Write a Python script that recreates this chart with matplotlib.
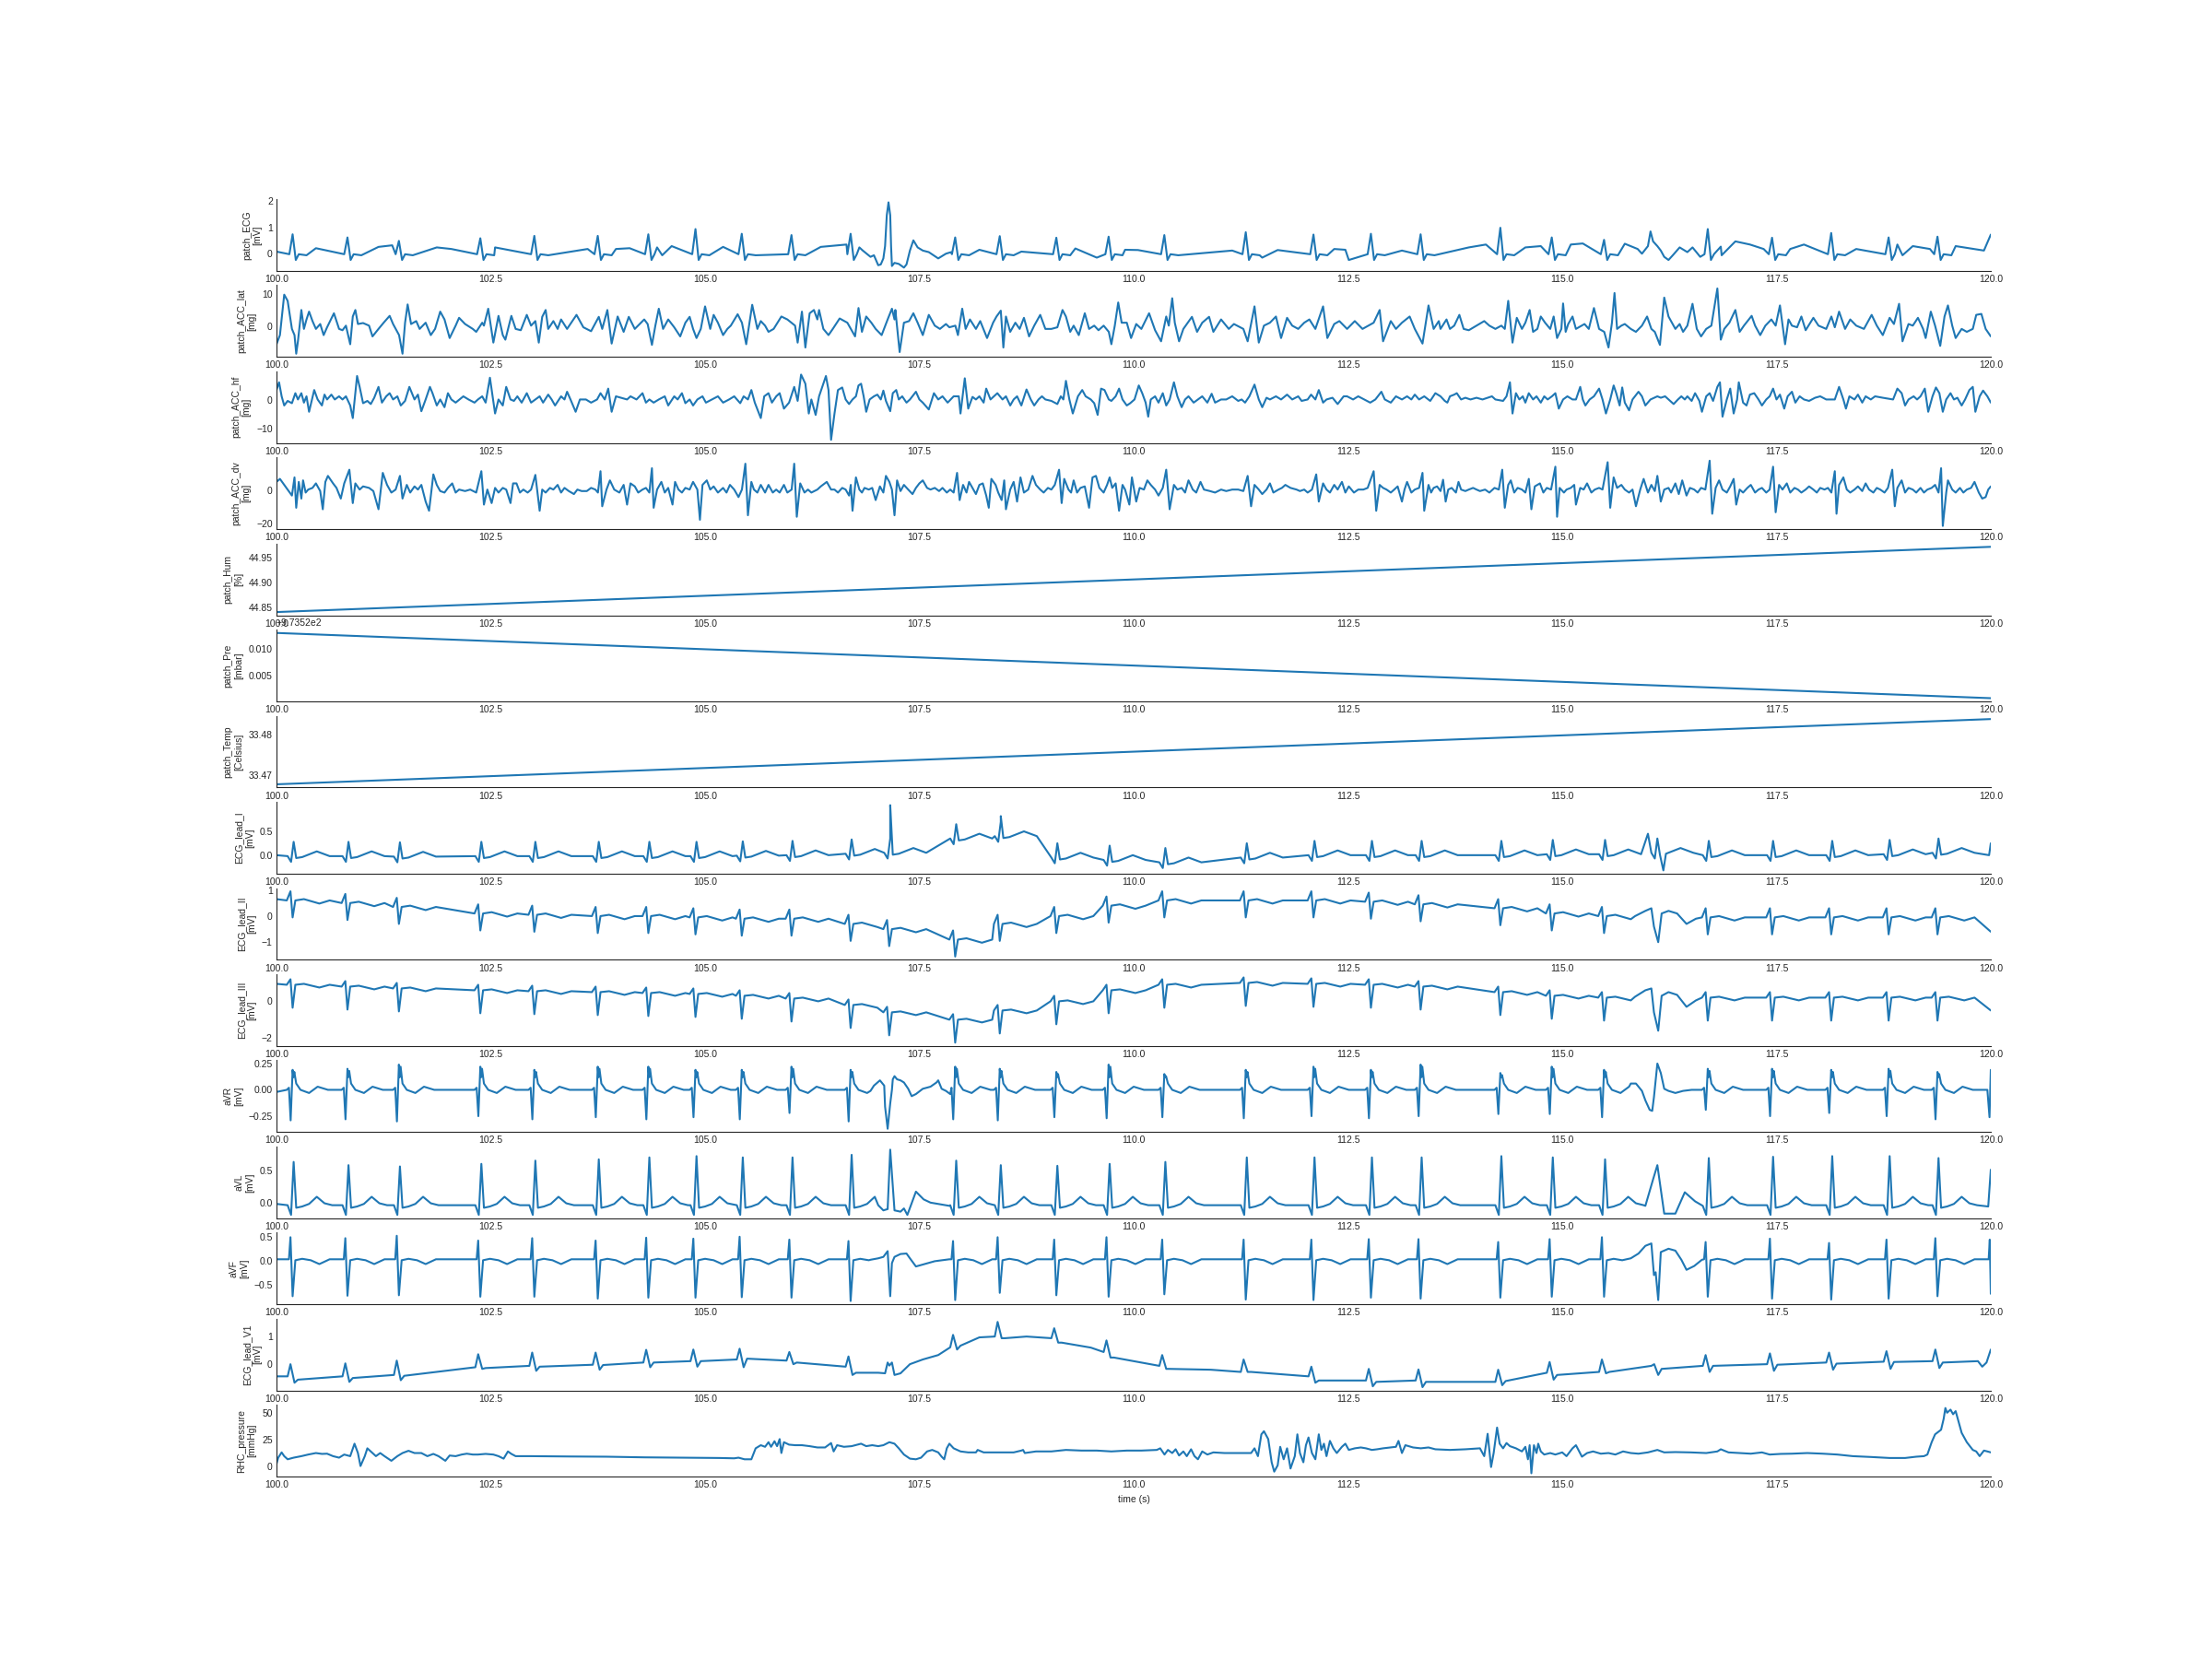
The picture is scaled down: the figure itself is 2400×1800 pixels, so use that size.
import numpy as np
import matplotlib
matplotlib.use("Agg")
import matplotlib.pyplot as plt
import seaborn as sns

sns.set_style("white")
plt.rcParams["font.family"] = ["Liberation Sans", "DejaVu Sans"]
plt.rcParams["font.size"] = 7.5
plt.rcParams["xtick.major.size"] = 0
plt.rcParams["ytick.major.size"] = 0
plt.rcParams["xtick.major.pad"] = 3
plt.rcParams["ytick.major.pad"] = 3

# ---------------- data ----------------
beat_t = [100.20, 100.84, 101.44, 102.39, 103.02, 103.76, 104.35, 104.90, 105.44, 106.02,
          106.71, 107.16, 107.93, 108.45, 109.11, 109.72, 110.37, 111.32, 112.11, 112.78,
          113.36, 114.29, 114.89, 115.50, 116.11, 116.71, 117.46, 118.15, 118.82, 119.39]

# patch ECG
patch_r = [0.74, 0.62, 0.49, 0.59, 0.68, 0.68, 0.74, 0.94, 0.76, 0.71, 0.76, 1.96, 0.62, 0.67, 0.61,
           0.65, 0.71, 0.82, 0.73, 0.76, 0.74, 0.99, 0.62, 0.53, 0.85, 0.94, 0.61, 0.79, 0.62, 0.65]
patch_extra = [(100.0, 0.08), (100.46, 0.21), (101.19, 0.26), (101.35, 0.32), (101.87, 0.24), (102.04, 0.18),
               (102.55, 0.24), (103.63, 0.18), (103.96, 0.18), (104.12, 0.21), (104.44, 0.24), (104.61, 0.29),
               (105.21, 0.26), (106.35, 0.26), (106.65, 0.35), (108.20, 0.15), (108.69, 0.08), (109.32, 0.2),
               (109.57, -0.15), (109.90, 0.15), (110.05, 0.14), (111.15, 0.12), (111.5, -0.15), (111.68, 0.14),
               (112.34, 0.18), (112.47, 0.15), (112.51, -0.24), (113.13, 0.12), (113.91, 0.24), (114.11, 0.35),
               (114.57, 0.24), (114.75, 0.29), (115.10, 0.35), (115.24, 0.39), (115.73, 0.38), (115.88, 0.18),
               (116.85, 0.27), (117.02, 0.47), (117.19, 0.35), (117.35, 0.18), (117.66, 0.18), (117.82, 0.35),
               (118.43, 0.18), (118.91, 0.35), (119.09, 0.29), (119.29, 0.18), (119.59, 0.29), (119.92, 0.12),
               (120.0, 0.73)]
patch_pvc1 = [(106.80, 0.24), (106.84, 0.12), (106.93, -0.12), (106.97, -0.06), (107.02, -0.44),
              (107.05, -0.41), (107.08, -0.18), (107.10, 0.29), (107.12, 1.47), (107.14, 1.96),
              (107.16, 1.47), (107.17, 0.29), (107.18, -0.47), (107.21, -0.35), (107.26, -0.39),
              (107.32, -0.53), (107.35, -0.41), (107.39, 0.12), (107.43, 0.51), (107.48, 0.24),
              (107.54, 0.12), (107.61, 0.06), (107.72, -0.18), (107.81, 0.0), (107.87, 0.06)]
patch_pvc2 = [(115.93, 0.0), (116.00, 0.29), (116.03, 0.85), (116.06, 0.47), (116.11, 0.29), (116.15, 0.12),
              (116.19, -0.12), (116.24, -0.24), (116.29, -0.06), (116.37, 0.24), (116.46, 0.06),
              (116.52, 0.24), (116.61, -0.12)]

acc_lat_pts = [
    (100.00, -5.5), (100.04, -2.7), (100.09, 9.7), (100.13, 7.8), (100.18, -0.8), (100.21, -2.7), (100.23, -8.4),
    (100.25, -4.6), (100.29, 5.0), (100.32, -0.8), (100.35, 2.1), (100.38, 4.5), (100.42, 1.6), (100.46, -0.8),
    (100.51, 0.7), (100.55, -2.7), (100.59, -0.3), (100.67, 4.0), (100.73, -0.8), (100.77, -1.2), (100.81, 0.2),
    (100.86, -5.5), (100.89, 3.0), (100.92, 5.0), (100.95, 0.7), (101.01, 1.0), (101.08, 0.2), (101.12, -3.1),
    (101.19, -0.8), (101.25, 1.1), (101.32, 3.2), (101.36, 0.7), (101.43, -2.7), (101.47, -8.4), (101.50, 1.1),
    (101.53, 6.7), (101.57, 0.7), (101.63, 1.6), (101.67, -0.8), (101.74, 1.1), (101.80, -2.7), (101.85, -0.8),
    (101.91, 4.5), (101.96, 2.1), (102.02, -3.6), (102.09, 0.2), (102.13, 2.6), (102.20, 0.7), (102.29, -0.8),
    (102.33, -1.7), (102.40, 1.1), (102.42, 0.2), (102.47, 5.4), (102.53, -5.0), (102.59, 3.2), (102.64, -2.7),
    (102.67, -4.1), (102.74, 3.2), (102.79, -0.8), (102.85, -1.2), (102.92, 3.5), (102.97, 0.2), (103.02, 1.6),
    (103.06, -5.0), (103.10, 2.9), (103.14, 5.0), (103.17, -0.8), (103.23, 1.6), (103.28, -0.8), (103.32, 2.1),
    (103.39, -0.8), (103.50, 3.5), (103.58, -0.3), (103.67, -1.5), (103.76, 2.9), (103.80, -0.8), (103.86, 5.0),
    (103.91, -5.3), (103.98, 3.0), (104.05, -1.7), (104.11, 2.9), (104.18, -0.8), (104.29, 2.1), (104.33, 0.7),
    (104.38, -5.7), (104.42, 0.2), (104.46, 5.4), (104.51, -0.8), (104.57, 2.1), (104.64, -0.3), (104.71, -3.1),
    (104.77, 1.1), (104.82, 2.9), (104.86, -0.8), (104.90, -3.6), (104.95, -0.8), (105.00, 6.1), (105.06, -0.8),
    (105.10, 3.5), (105.15, 1.1), (105.21, -2.7), (105.26, -0.8), (105.30, 0.2), (105.38, 3.7), (105.43, 1.1),
    (105.48, -5.5), (105.55, 6.6), (105.61, -0.8), (105.65, 1.6), (105.70, 0.2), (105.74, -1.7), (105.80, -0.8),
    (105.89, 3.0), (105.96, 2.1), (106.05, 0.2), (106.08, -5.0), (106.13, 4.5), (106.17, -6.5), (106.22, 4.0),
    (106.27, 5.0), (106.31, 2.1), (106.33, 5.0), (106.38, -0.8), (106.44, -2.7), (106.49, -0.8), (106.57, 2.4),
    (106.66, 1.1), (106.75, -3.1), (106.79, 5.6), (106.83, -1.7), (106.88, 3.0), (106.94, 1.1), (106.99, -0.8),
    (107.06, -2.7), (107.13, 2.1), (107.18, 5.4), (107.21, 2.1), (107.22, 5.0), (107.27, -7.9), (107.32, 1.1),
    (107.38, 1.6), (107.43, 4.0), (107.48, 1.1), (107.54, -2.7), (107.61, 3.5), (107.68, 0.2), (107.74, -0.8),
    (107.81, 0.7), (107.85, -0.3), (107.92, 0.2), (107.95, -2.7), (108.00, 5.4), (108.04, -0.8), (108.09, 2.1),
    (108.16, -0.8), (108.21, 1.6), (108.29, -3.6), (108.36, 1.1), (108.40, 3.0), (108.45, 4.8), (108.48, -6.5),
    (108.51, 3.0), (108.56, -1.7), (108.62, 1.1), (108.67, -0.8), (108.72, 2.6), (108.78, -3.1), (108.84, 0.2),
    (108.91, 3.5), (108.97, -0.8), (109.04, -0.8), (109.11, -0.3), (109.17, 5.0), (109.21, 3.0), (109.26, -1.7),
    (109.30, 0.2), (109.36, -2.7), (109.43, 4.0), (109.48, -0.8), (109.54, 0.2), (109.59, -1.2), (109.65, 0.2),
    (109.71, -1.7), (109.74, -5.5), (109.78, 0.2), (109.82, 7.3), (109.86, 1.1), (109.92, 1.1), (109.97, -3.6),
    (110.03, 0.7), (110.09, -0.8), (110.18, 4.0), (110.25, -1.2), (110.32, -4.6), (110.38, 3.0), (110.41, 0.2),
    (110.45, 8.6), (110.48, 1.1), (110.53, -4.6), (110.58, -0.8), (110.68, 2.9), (110.74, -1.7), (110.80, 1.1),
    (110.88, 2.9), (110.93, -1.7), (111.02, 2.1), (111.11, -0.8), (111.17, 0.7), (111.28, -0.8), (111.33, -4.6),
    (111.41, 6.1), (111.46, -5.0), (111.52, 0.2), (111.59, 1.1), (111.66, 3.0), (111.72, -3.6), (111.79, 2.6),
    (111.85, 0.2), (111.92, -0.8), (111.99, 1.1), (112.05, 2.1), (112.12, -0.8), (112.21, 6.1), (112.26, -3.6),
    (112.34, 0.7), (112.40, 1.6), (112.49, -0.8), (112.58, 1.6), (112.67, -0.8), (112.80, 1.1), (112.87, 5.0),
    (112.91, -4.6), (113.00, 1.6), (113.06, -0.8), (113.13, 1.1), (113.22, 3.0), (113.28, -0.8), (113.37, -5.3),
    (113.44, 6.4), (113.50, -0.8), (113.56, 1.6), (113.58, -0.8), (113.65, 2.1), (113.69, -0.8), (113.74, 0.2),
    (113.80, 3.5), (113.85, -0.8), (113.91, -1.2), (114.00, 0.2), (114.09, 1.6), (114.15, 0.2), (114.22, -0.8),
    (114.29, 0.2), (114.33, -0.8), (114.37, 7.8), (114.42, -5.0), (114.47, 2.6), (114.53, -0.8), (114.57, 1.1),
    (114.62, 5.0), (114.66, -1.7), (114.71, -0.8), (114.75, 3.0), (114.80, 1.1), (114.86, -0.8), (114.90, 3.0),
    (114.94, -3.6), (114.99, -0.8), (115.01, 7.0), (115.04, -1.7), (115.07, 0.7), (115.12, 3.0), (115.16, -0.8),
    (115.26, 0.7), (115.31, -0.8), (115.37, 5.6), (115.43, -0.8), (115.49, -1.7), (115.54, -6.5), (115.58, 1.1),
    (115.61, 10.2), (115.64, -0.8), (115.69, 0.2), (115.73, 0.7), (115.80, -0.8), (115.86, -1.7), (115.93, 0.2),
    (115.99, 3.0), (116.04, -0.8), (116.08, -1.7), (116.14, -5.7), (116.19, 8.8), (116.24, 3.0), (116.28, 1.1),
    (116.32, -0.8), (116.37, 0.7), (116.41, -1.7), (116.46, 0.2), (116.52, 6.9), (116.57, -0.8), (116.62, -3.1),
    (116.68, -0.8), (116.74, 0.2), (116.81, 11.6), (116.85, -4.1), (116.89, -0.8), (116.95, 1.1), (117.02, 5.0),
    (117.07, -1.7), (117.12, 0.2), (117.21, 3.2), (117.25, 0.2), (117.31, -2.7), (117.37, 0.2), (117.44, 2.1),
    (117.49, 0.2), (117.54, 6.4), (117.60, -5.5), (117.64, 2.1), (117.68, 0.2), (117.74, -0.3), (117.79, 3.0),
    (117.84, -1.2), (117.93, 2.6), (117.99, 0.2), (118.08, -0.8), (118.14, 3.0), (118.18, -0.3), (118.23, 4.5),
    (118.30, -0.8), (118.36, 2.1), (118.43, 0.2), (118.52, -0.8), (118.61, 3.5), (118.67, 0.2), (118.74, -2.7),
    (118.82, 2.6), (118.87, 0.7), (118.93, 6.9), (118.97, -4.6), (119.04, 0.7), (119.09, 0.2), (119.15, 2.6),
    (119.21, -0.8), (119.24, -3.6), (119.30, 4.5), (119.35, 0.2), (119.41, -6.0), (119.46, 3.0), (119.50, 6.4),
    (119.55, 0.2), (119.59, -3.6), (119.66, -0.8), (119.72, -1.7), (119.79, -0.8), (119.83, 3.5), (119.89, 3.8),
    (119.94, -0.8), (120.00, -3.1)]

acc_hf_pts = [
    (100.00, 3.6), (100.03, 6.3), (100.06, 1.4), (100.09, -1.8), (100.13, -0.2), (100.18, -1.0), (100.22, 2.5),
    (100.25, 0.3), (100.29, 2.5), (100.32, -0.8), (100.35, 1.4), (100.38, -4.0), (100.44, 3.6), (100.48, 0.3),
    (100.53, -1.8), (100.56, 2.0), (100.59, 0.3), (100.64, 2.0), (100.68, 0.3), (100.73, 1.4), (100.77, 0.3),
    (100.81, 1.4), (100.86, -1.8), (100.89, -6.2), (100.94, 8.5), (100.97, 4.7), (101.01, -1.0), (101.06, -0.2),
    (101.10, -1.3), (101.14, 0.9), (101.19, 4.7), (101.23, -0.8), (101.28, 1.4), (101.32, 2.5), (101.36, 0.3),
    (101.41, 1.4), (101.45, -1.8), (101.50, -0.2), (101.55, 4.7), (101.61, 0.3), (101.65, 2.0), (101.69, -3.8),
    (101.74, 0.3), (101.79, 4.7), (101.82, 2.5), (101.87, -1.8), (101.91, 0.3), (101.96, -2.4), (102.00, 2.5),
    (102.04, 0.3), (102.09, -0.8), (102.18, 1.4), (102.24, 0.3), (102.31, -0.8), (102.35, 0.3), (102.40, 1.4),
    (102.44, -0.8), (102.49, 7.9), (102.55, -4.6), (102.59, 0.3), (102.64, -1.8), (102.68, 4.7), (102.73, 0.3),
    (102.77, -0.2), (102.81, 1.4), (102.86, -0.8), (102.92, 2.5), (102.97, -0.8), (103.02, 0.3), (103.07, 1.4),
    (103.11, -0.8), (103.17, 2.0), (103.21, 0.3), (103.25, -1.8), (103.32, 1.4), (103.36, 0.3), (103.39, 3.0),
    (103.43, 0.3), (103.49, -4.0), (103.54, 0.3), (103.61, 0.3), (103.67, -0.8), (103.74, 0.3), (103.78, 2.5),
    (103.83, 0.3), (103.87, 4.1), (103.91, -4.0), (103.96, 1.4), (104.02, 0.9), (104.09, 0.3), (104.13, 1.4),
    (104.20, 0.3), (104.27, 2.5), (104.31, -0.8), (104.35, 0.3), (104.40, -0.8), (104.46, 0.3), (104.53, 1.4),
    (104.57, -1.8), (104.64, 1.4), (104.68, 0.3), (104.73, 2.5), (104.77, -1.0), (104.82, 0.3), (104.86, -1.8),
    (104.91, 0.3), (104.97, 1.4), (105.01, -0.8), (105.08, 0.3), (105.15, 1.4), (105.21, -0.8), (105.28, 0.3),
    (105.34, 1.4), (105.41, -1.0), (105.45, 1.4), (105.50, 0.3), (105.54, 3.6), (105.58, -0.8), (105.65, -6.2),
    (105.69, 1.4), (105.74, 2.5), (105.78, -0.8), (105.83, 1.4), (105.87, 2.5), (105.92, -2.9), (105.98, -0.8),
    (106.04, 4.7), (106.08, -0.2), (106.12, 9.0), (106.17, 5.8), (106.21, -4.6), (106.24, 0.3), (106.29, -5.1),
    (106.33, 1.4), (106.41, 8.5), (106.44, 3.6), (106.47, -13.8), (106.51, -4.6), (106.55, 3.6), (106.60, 4.5),
    (106.64, 0.3), (106.68, -1.3), (106.72, 0.3), (106.76, 1.4), (106.79, 5.2), (106.82, 5.8), (106.85, 1.4),
    (106.88, -4.0), (106.92, 0.3), (106.97, 1.4), (107.01, 2.0), (107.05, 0.3), (107.08, 3.4), (107.11, -0.2),
    (107.16, -3.8), (107.19, 2.5), (107.23, 3.6), (107.26, 0.3), (107.30, 1.4), (107.35, -0.8), (107.39, 0.3),
    (107.46, 3.0), (107.50, 0.3), (107.54, -0.8), (107.61, -3.2), (107.67, 2.5), (107.72, 0.3), (107.77, 1.4),
    (107.83, -0.8), (107.90, 1.4), (107.96, 1.4), (107.98, -4.6), (108.03, 7.7), (108.07, -2.9), (108.12, 1.2),
    (108.16, 0.3), (108.20, 1.4), (108.25, -0.8), (108.28, 4.1), (108.33, 0.3), (108.37, 1.4), (108.41, 2.5),
    (108.47, 0.3), (108.51, 1.4), (108.56, -1.8), (108.60, 0.3), (108.64, 1.4), (108.69, -1.8), (108.75, 3.8),
    (108.80, 0.3), (108.84, -1.8), (108.89, 0.3), (108.93, 1.4), (108.97, 0.3), (109.04, -0.2), (109.11, -1.3),
    (109.15, 1.4), (109.18, 0.3), (109.21, 6.8), (109.25, 0.3), (109.29, -4.6), (109.35, 1.4), (109.40, 3.6),
    (109.44, 1.4), (109.50, 0.3), (109.54, -1.0), (109.58, -5.1), (109.62, 4.1), (109.66, 3.6), (109.71, 0.3),
    (109.74, -0.2), (109.79, 1.4), (109.83, 4.1), (109.87, 0.3), (109.92, -1.8), (109.96, -1.0), (110.01, 0.3),
    (110.06, 5.2), (110.10, 2.5), (110.14, -0.8), (110.17, -5.7), (110.20, 0.3), (110.25, 1.4), (110.29, -0.8),
    (110.34, 2.5), (110.38, -1.8), (110.42, 0.3), (110.47, 6.3), (110.51, 1.4), (110.56, -2.4), (110.60, 0.3),
    (110.64, 1.4), (110.70, -0.8), (110.75, 0.3), (110.80, 1.4), (110.86, -0.8), (110.91, 2.3), (110.95, -0.8),
    (111.02, 0.3), (111.08, 0.3), (111.15, 1.4), (111.22, -0.2), (111.26, 0.3), (111.30, -0.8), (111.35, 1.4),
    (111.41, 5.5), (111.46, 0.3), (111.50, -2.4), (111.55, 0.9), (111.59, 0.3), (111.66, 1.4), (111.72, 0.3),
    (111.79, 2.0), (111.85, 0.3), (111.92, 1.4), (111.96, -0.2), (112.03, 0.3), (112.07, 2.0), (112.12, 0.3),
    (112.16, 3.6), (112.21, -0.8), (112.25, 0.3), (112.32, 0.9), (112.38, -1.3), (112.45, 1.4), (112.49, 1.4),
    (112.56, 0.3), (112.62, 1.4), (112.69, 0.3), (112.76, -0.8), (112.82, 0.3), (112.89, 3.0), (112.93, 0.3),
    (113.00, -0.8), (113.06, 1.4), (113.13, 0.3), (113.19, 1.4), (113.24, 0.3), (113.28, 2.0), (113.33, 0.3),
    (113.39, 1.4), (113.46, -0.2), (113.52, 2.5), (113.58, 1.4), (113.63, -0.2), (113.66, -0.8), (113.69, 1.4),
    (113.74, 2.0), (113.77, 2.5), (113.82, 0.3), (113.87, 0.9), (113.93, 0.3), (114.00, 0.9), (114.07, 0.3),
    (114.18, 1.4), (114.22, 0.3), (114.31, -0.2), (114.35, 1.4), (114.39, 6.3), (114.42, -4.6), (114.46, 2.5),
    (114.50, 0.3), (114.54, 1.4), (114.57, -0.8), (114.61, 2.5), (114.66, 0.3), (114.70, 1.4), (114.75, -0.8),
    (114.79, 1.4), (114.83, 0.3), (114.88, 1.4), (114.92, 2.5), (114.96, -2.9), (115.01, 0.3), (115.06, 1.4),
    (115.12, 0.3), (115.16, 0.3), (115.21, 4.7), (115.24, 0.3), (115.27, -1.8), (115.32, 0.3), (115.37, 1.4),
    (115.43, 4.1), (115.47, 0.3), (115.51, -4.6), (115.56, 0.3), (115.60, 5.2), (115.63, 2.5), (115.67, -1.8),
    (115.70, 4.5), (115.73, -0.8), (115.78, -3.5), (115.82, 0.3), (115.89, 3.0), (115.93, 1.4), (115.97, -1.8),
    (116.03, 0.3), (116.11, 1.4), (116.15, 0.9), (116.20, 1.4), (116.26, -0.2), (116.30, -1.3), (116.35, 0.3),
    (116.39, 1.4), (116.43, 0.3), (116.46, 1.4), (116.51, -0.2), (116.55, 2.5), (116.60, -0.2), (116.63, -4.0),
    (116.68, 1.4), (116.72, 2.5), (116.76, -0.2), (116.81, 4.7), (116.84, 6.3), (116.87, -5.7), (116.92, 0.3),
    (116.96, 4.1), (117.00, -4.6), (117.04, 0.3), (117.06, 6.3), (117.11, -0.8), (117.15, -1.8), (117.19, 2.0),
    (117.24, 2.5), (117.29, 0.3), (117.33, -1.8), (117.38, 0.3), (117.42, 1.4), (117.46, 4.1), (117.50, 0.3),
    (117.54, 2.0), (117.59, -2.9), (117.63, 1.4), (117.68, 3.0), (117.72, -0.8), (117.77, 1.4), (117.82, 0.3),
    (117.88, -0.2), (117.95, 0.9), (118.01, 1.4), (118.08, 0.3), (118.18, 0.3), (118.23, 4.7), (118.28, 0.3),
    (118.31, -2.9), (118.35, 1.4), (118.41, 0.3), (118.45, 2.0), (118.50, -0.8), (118.54, 1.4), (118.60, 0.3),
    (118.65, 1.4), (118.74, 0.9), (118.86, 0.3), (118.91, 4.1), (118.96, 2.5), (119.00, -1.8), (119.04, 0.3),
    (119.10, 1.4), (119.14, 0.3), (119.18, 1.4), (119.23, 4.1), (119.27, -4.0), (119.32, 1.4), (119.36, 4.5),
    (119.40, 2.5), (119.44, -4.0), (119.48, 0.3), (119.53, 2.5), (119.57, 0.3), (119.61, 0.9), (119.66, -1.8),
    (119.70, 0.3), (119.75, 3.6), (119.79, 4.7), (119.82, -4.0), (119.87, 1.4), (119.91, 3.4), (119.96, 1.4),
    (120.00, -0.8)]

acc_dv_pts = [
    (100.00, 5.1), (100.04, 6.9), (100.09, 3.3), (100.13, 0.5), (100.18, -3.1), (100.21, 7.8), (100.23, -10.4),
    (100.26, 5.1), (100.29, -4.9), (100.31, 6.0), (100.34, -1.3), (100.37, 0.5), (100.42, 1.5), (100.46, 4.2),
    (100.51, -0.4), (100.54, -11.3), (100.57, 5.1), (100.60, 8.7), (100.66, 4.2), (100.70, 1.5), (100.75, -4.9),
    (100.79, 4.2), (100.85, 12.4), (100.89, -7.6), (100.92, 4.2), (100.97, 0.5), (101.01, 2.4), (101.08, 1.5),
    (101.13, -0.4), (101.19, -11.3), (101.24, 10.5), (101.29, 3.3), (101.34, -1.3), (101.39, 0.5), (101.44, 8.7),
    (101.47, -4.9), (101.52, 3.3), (101.56, -1.3), (101.61, 2.4), (101.65, 0.5), (101.69, 3.3), (101.74, -6.7),
    (101.78, -12.2), (101.83, 9.6), (101.87, 3.3), (101.91, -0.4), (101.96, -1.3), (102.00, 1.5), (102.05, 4.2),
    (102.09, -1.3), (102.13, 0.5), (102.20, -0.4), (102.26, 0.5), (102.33, -1.3), (102.39, 11.5), (102.42, -8.5),
    (102.46, 0.5), (102.51, -7.6), (102.55, 1.5), (102.59, -1.3), (102.64, 1.5), (102.68, 0.5), (102.73, -7.6),
    (102.76, 4.2), (102.80, 4.2), (102.84, -1.3), (102.88, 0.5), (102.93, -1.3), (102.97, 0.5), (103.02, 9.3),
    (103.07, -12.2), (103.10, 0.5), (103.14, -1.3), (103.19, 1.5), (103.23, 0.5), (103.28, 3.3), (103.32, -1.3),
    (103.36, 1.5), (103.41, -0.4), (103.47, -2.2), (103.51, 0.5), (103.56, -0.4), (103.62, -0.4), (103.67, 1.5),
    (103.72, 0.5), (103.75, -1.3), (103.78, 11.5), (103.80, -9.5), (103.85, 0.5), (103.89, 6.0), (103.94, 0.5),
    (104.00, -1.3), (104.05, 3.3), (104.09, -8.5), (104.13, 4.2), (104.18, 2.4), (104.22, -1.3), (104.27, 0.5),
    (104.31, 1.5), (104.35, -1.3), (104.38, 13.3), (104.40, -10.4), (104.44, 0.5), (104.49, 5.1), (104.53, -1.3),
    (104.57, 1.5), (104.62, -8.5), (104.65, 5.1), (104.69, 0.5), (104.73, -1.3), (104.77, 1.5), (104.82, 0.5),
    (104.86, 5.1), (104.91, 0.5), (104.94, -17.6), (104.97, 3.3), (105.02, 6.0), (105.06, 0.5), (105.10, 2.4),
    (105.15, -1.3), (105.21, 1.5), (105.25, -1.3), (105.29, 3.3), (105.34, 0.5), (105.39, -4.0), (105.43, 0.5),
    (105.47, 16.0), (105.50, -14.9), (105.54, 5.1), (105.57, 0.5), (105.61, -1.3), (105.65, 3.3), (105.70, -1.3),
    (105.74, 3.3), (105.79, -1.3), (105.83, 0.5), (105.87, -1.3), (105.92, 3.3), (105.96, -1.3), (106.01, 0.5),
    (106.04, 16.0), (106.07, -15.8), (106.11, 4.2), (106.16, -1.3), (106.20, 0.5), (106.24, -1.3), (106.31, 0.5),
    (106.35, 2.4), (106.42, 5.1), (106.47, 0.5), (106.51, 0.5), (106.55, -1.3), (106.60, 1.5), (106.64, 0.5),
    (106.68, -3.1), (106.70, 3.3), (106.72, -12.2), (106.76, 7.8), (106.80, 0.5), (106.83, -1.3), (106.86, 1.5),
    (106.91, 0.5), (106.95, 1.5), (106.99, -5.8), (107.04, 2.4), (107.08, -1.3), (107.11, 8.7), (107.15, 5.1),
    (107.18, 0.5), (107.21, -14.9), (107.24, 6.0), (107.28, -0.4), (107.32, 3.3), (107.37, 0.5), (107.42, -2.2),
    (107.46, 1.5), (107.50, 4.2), (107.54, 6.0), (107.59, 1.5), (107.63, 0.5), (107.68, 1.5), (107.73, -0.4),
    (107.77, 1.5), (107.82, -1.3), (107.86, 0.5), (107.90, -1.3), (107.94, 10.5), (107.97, -5.8), (108.01, 3.3),
    (108.05, -1.3), (108.08, 5.1), (108.12, 1.5), (108.16, -2.2), (108.20, 3.3), (108.24, 4.2), (108.28, -3.1),
    (108.31, -10.4), (108.34, 6.9), (108.39, 3.3), (108.42, -1.3), (108.46, -5.8), (108.49, 6.0), (108.51, -11.3),
    (108.56, 0.5), (108.60, 5.1), (108.64, -6.7), (108.68, 7.8), (108.72, -1.3), (108.77, 0.5), (108.82, 8.7),
    (108.86, 3.3), (108.91, 0.5), (108.95, -1.3), (109.00, 1.5), (109.04, 0.5), (109.08, 3.3), (109.13, 12.4),
    (109.16, -7.6), (109.19, 6.9), (109.24, 0.5), (109.27, -1.3), (109.30, 6.0), (109.34, -1.3), (109.38, 1.5),
    (109.43, 2.4), (109.48, -10.4), (109.52, 7.8), (109.56, 8.7), (109.60, 1.5), (109.65, -1.3), (109.69, 3.3),
    (109.72, 7.8), (109.75, 1.5), (109.79, 4.2), (109.83, -12.2), (109.87, 3.3), (109.90, 0.5), (109.95, -8.5),
    (109.98, 7.8), (110.03, -6.7), (110.07, 1.5), (110.12, 0.5), (110.16, 6.0), (110.20, 3.3), (110.25, 0.5),
    (110.29, -3.1), (110.34, 1.5), (110.38, 12.4), (110.42, -11.3), (110.47, 3.3), (110.51, 0.5), (110.56, 1.5),
    (110.60, -1.3), (110.64, 6.0), (110.69, 0.5), (110.73, -1.3), (110.78, 5.1), (110.82, 0.5), (110.89, -0.4),
    (110.95, -1.3), (111.02, 0.5), (111.08, -0.4), (111.15, 0.5), (111.22, 0.5), (111.28, -0.4), (111.33, 8.7),
    (111.37, -9.5), (111.41, 3.3), (111.46, 0.5), (111.50, -2.2), (111.55, 0.5), (111.59, 4.2), (111.63, -1.3),
    (111.69, 0.5), (111.73, 1.5), (111.77, 3.3), (111.83, 1.5), (111.90, 0.5), (111.94, -0.4), (111.99, 0.5),
    (112.03, -1.3), (112.08, 0.5), (112.13, 9.6), (112.16, -6.7), (112.21, 4.2), (112.25, 0.5), (112.29, -1.3),
    (112.34, 3.3), (112.38, 0.5), (112.43, 5.1), (112.47, -1.3), (112.51, 2.4), (112.57, -1.3), (112.62, 0.5),
    (112.68, 0.5), (112.73, 1.5), (112.80, 11.5), (112.83, -12.2), (112.87, 3.3), (112.91, 1.5), (112.95, 0.5),
    (113.00, -1.3), (113.04, 0.5), (113.08, 2.4), (113.13, -6.7), (113.16, 0.5), (113.19, 5.1), (113.24, -1.3),
    (113.28, 0.5), (113.33, 1.5), (113.37, 10.5), (113.39, -12.2), (113.44, 3.3), (113.47, -1.3), (113.50, 1.5),
    (113.54, 2.4), (113.58, -0.4), (113.61, 6.4), (113.64, -6.7), (113.67, 0.5), (113.71, 1.5), (113.76, -1.3),
    (113.79, 5.1), (113.82, 0.5), (113.87, -0.4), (113.91, 0.5), (113.96, 1.5), (114.00, 0.5), (114.04, -0.4),
    (114.10, 0.5), (114.15, -1.3), (114.21, 1.5), (114.26, 0.5), (114.30, 12.4), (114.33, -10.4), (114.37, 3.3),
    (114.40, 6.0), (114.44, -1.3), (114.48, 1.5), (114.53, 0.5), (114.57, -1.3), (114.61, 6.9), (114.64, -11.3),
    (114.68, 2.4), (114.74, 4.2), (114.78, -1.3), (114.82, 1.5), (114.87, 0.5), (114.92, 14.2), (114.94, -15.8),
    (114.97, 1.5), (115.02, -1.3), (115.05, 0.5), (115.10, 1.5), (115.14, 3.3), (115.16, -8.5), (115.21, 1.5),
    (115.25, 0.5), (115.29, 4.2), (115.34, -1.3), (115.38, 0.5), (115.43, 1.5), (115.47, 0.5), (115.53, 16.9),
    (115.56, -10.4), (115.60, 7.8), (115.64, 1.5), (115.69, 3.3), (115.73, 0.5), (115.78, -1.3), (115.82, 0.5),
    (115.86, -9.5), (115.91, 0.5), (115.95, 6.9), (116.00, -1.3), (116.04, 3.3), (116.08, -0.4), (116.11, 8.7),
    (116.15, -6.7), (116.19, 0.5), (116.24, 1.5), (116.27, -1.3), (116.32, 4.2), (116.36, -2.2), (116.40, 6.0),
    (116.45, -3.1), (116.49, 1.5), (116.54, 0.5), (116.58, -1.3), (116.62, 1.5), (116.67, 0.5), (116.72, 17.8),
    (116.75, -14.0), (116.79, 1.5), (116.83, 6.0), (116.87, 0.5), (116.92, -1.3), (116.96, 2.4), (117.00, 6.9),
    (117.03, -8.5), (117.07, 0.5), (117.11, -1.3), (117.16, 1.5), (117.20, 3.3), (117.25, -1.3), (117.29, 0.5),
    (117.33, 1.5), (117.38, -1.3), (117.42, 0.5), (117.46, 14.2), (117.49, -13.1), (117.53, 3.3), (117.57, 0.5),
    (117.62, 4.2), (117.66, -1.3), (117.71, 1.5), (117.75, 0.5), (117.79, -1.3), (117.84, 0.5), (117.88, 2.4),
    (117.93, 0.5), (117.97, -1.3), (118.01, 1.5), (118.06, 0.5), (118.10, 1.5), (118.14, -1.3), (118.18, 11.5),
    (118.20, -14.0), (118.23, 3.3), (118.28, 7.8), (118.32, 0.5), (118.36, -1.3), (118.41, 0.5), (118.45, 2.4),
    (118.50, -0.4), (118.54, 4.2), (118.58, 0.5), (118.63, -1.3), (118.67, 1.5), (118.71, 0.5), (118.76, -1.3),
    (118.80, 1.5), (118.85, 12.4), (118.88, -9.5), (118.91, 1.5), (118.96, 6.0), (119.00, -1.3), (119.04, 1.5),
    (119.09, 0.5), (119.13, -1.3), (119.18, 1.5), (119.22, -1.3), (119.26, 0.5), (119.31, 1.5), (119.35, 3.3),
    (119.39, -1.3), (119.42, 13.3), (119.44, -21.3), (119.48, -1.3), (119.50, 6.0), (119.55, 0.5), (119.59, -1.3),
    (119.64, 1.5), (119.68, -1.3), (119.72, 0.5), (119.77, 1.5), (119.81, 5.1), (119.86, -1.3), (119.90, -4.9),
    (119.94, -4.0), (119.97, 0.5), (120.00, 2.4)]

hum_t = [100.0, 120.0]
hum_v = [44.8406, 44.9725]
pre_t = [100.0, 120.0]
pre_v = [973.5329, 973.5209]
temp_t = [100.0, 120.0]
temp_v = [33.4677, 33.4839]

# limb leads (baseline per beat)
lead1_base = [-0.02, -0.02, -0.03, -0.02, -0.02, -0.02, -0.02, -0.02, -0.01, 0.0, 0.03, 0.05, 0.35, 0.4,
              -0.05, -0.1, -0.15, -0.05, 0.0, 0.0, 0.0, 0.0, 0.02, 0.02, 0.05, 0.0, 0.0, 0.0, 0.02, 0.05]
lead2_base = [0.6, 0.5, 0.35, 0.1, 0.05, 0.0, 0.0, -0.05, -0.1, -0.1, -0.3, -0.5, -0.9, -0.3, 0.0,
              0.4, 0.6, 0.6, 0.6, 0.55, 0.45, 0.3, 0.1, 0.0, -0.05, -0.05, -0.05, -0.05, -0.05, -0.05]
lead3_base = [0.9, 0.8, 0.7, 0.6, 0.55, 0.5, 0.45, 0.4, 0.3, 0.15, -0.2, -0.6, -1.0, -0.5, 0.0, 0.6, 0.9,
              1.0, 0.95, 0.9, 0.8, 0.5, 0.3, 0.2, 0.2, 0.2, 0.2, 0.2, 0.2, 0.2]
lead2_pvc2 = [(115.85, 0.0), (115.97, 0.2), (116.04, 0.3), (116.07, -0.4), (116.12, -1.0), (116.16, 0.1),
              (116.24, 0.2), (116.34, 0.1), (116.45, -0.3), (116.56, -0.1), (116.63, -0.05)]
lead3_pvc2 = [(115.85, 0.25), (115.97, 0.6), (116.04, 0.7), (116.07, -0.6), (116.12, -1.6), (116.16, 0.3),
              (116.24, 0.5), (116.34, 0.35), (116.45, -0.3), (116.56, 0.05), (116.63, 0.2)]

# augmented leads
avr_trough = [-0.29, -0.28, -0.30, -0.25, -0.28, -0.26, -0.28, -0.26, -0.28, -0.22, -0.30, -0.37, -0.28, -0.29,
              -0.26, -0.27, -0.26, -0.27, -0.25, -0.27, -0.25, -0.23, -0.23, -0.26, -0.20, -0.19, -0.25, -0.22,
              -0.25, -0.28]
avr_peak = [0.19, 0.20, 0.24, 0.22, 0.19, 0.22, 0.22, 0.19, 0.19, 0.22, 0.19, 0.10, 0.22, 0.20, 0.17, 0.24,
            0.15, 0.19, 0.22, 0.19, 0.24, 0.16, 0.22, 0.19, 0.25, 0.20, 0.20, 0.19, 0.20, 0.17]
avr_pvc1 = [(106.93, -0.01), (106.97, 0.04), (107.04, 0.09), (107.09, 0.04), (107.10, -0.16), (107.13, -0.37),
            (107.16, -0.13), (107.18, 0.0), (107.19, 0.1), (107.21, 0.13), (107.24, 0.1), (107.28, 0.09),
            (107.32, 0.07), (107.37, 0.01), (107.41, -0.06), (107.46, -0.04), (107.54, 0.01), (107.63, 0.03),
            (107.70, 0.07), (107.72, 0.09), (107.76, 0.01), (107.81, -0.01), (107.86, -0.04)]
avr_pvc2 = [(115.80, 0.06), (115.86, 0.06), (115.93, -0.01), (115.97, -0.1), (116.02, -0.19), (116.05, -0.2),
            (116.07, -0.07), (116.11, 0.25), (116.15, 0.16), (116.19, 0.01), (116.24, -0.01), (116.32, -0.03),
            (116.41, -0.01)]

avl_peak = [0.63, 0.58, 0.56, 0.60, 0.65, 0.67, 0.70, 0.72, 0.70, 0.70, 0.74, 0.82, 0.65, 0.58, 0.57, 0.60,
            0.63, 0.70, 0.70, 0.70, 0.70, 0.72, 0.70, 0.67, 0.59, 0.69, 0.71, 0.72, 0.72, 0.69]
avl_pvc1 = [(107.02, -0.04), (107.08, -0.12), (107.13, -0.1), (107.16, 0.82), (107.21, -0.12), (107.28, -0.14),
            (107.32, -0.09), (107.36, -0.19), (107.46, 0.17), (107.55, 0.05), (107.63, 0.0), (107.85, -0.05)]
avl_pvc2 = [(115.97, -0.05), (116.06, 0.36), (116.11, 0.58), (116.19, -0.17), (116.32, -0.17), (116.43, 0.16),
            (116.55, 0.02), (116.64, -0.05)]

avf_peak = [0.49, 0.47, 0.52, 0.42, 0.47, 0.42, 0.48, 0.46, 0.50, 0.44, 0.41, 0.20, 0.41, 0.49, 0.44, 0.49,
            0.44, 0.44, 0.44, 0.45, 0.45, 0.39, 0.45, 0.49, 0.36, 0.39, 0.46, 0.37, 0.44, 0.47]
avf_trough = [-0.74, -0.73, -0.72, -0.75, -0.75, -0.79, -0.77, -0.77, -0.76, -0.77, -0.84, -0.74, -0.82, -0.67,
              -0.72, -0.75, -0.70, -0.81, -0.82, -0.77, -0.79, -0.77, -0.75, -0.75, -0.82, -0.75, -0.79, -0.81,
              -0.79, -0.74]
avf_pvc1 = [(106.93, 0.02), (107.02, 0.05), (107.08, 0.08), (107.13, 0.2), (107.16, -0.74), (107.18, -0.05),
            (107.21, 0.08), (107.28, 0.14), (107.35, 0.15), (107.39, 0.05), (107.46, -0.12), (107.54, -0.08),
            (107.68, -0.01), (107.81, 0.02)]
avf_pvc2 = [(115.80, 0.05), (115.89, 0.15), (115.97, 0.31), (116.04, 0.36), (116.07, -0.3), (116.09, -0.24),
            (116.12, -0.82), (116.15, 0.18), (116.24, 0.25), (116.32, 0.21), (116.39, 0.02), (116.45, -0.19),
            (116.54, -0.11), (116.63, 0.02)]

v1_pre = [-0.44, -0.44, -0.39, -0.11, -0.06, -0.02, 0.06, 0.11, 0.17, 0.13, -0.09, -0.33, 0.61, 1.0, 0.94,
          0.44, -0.06, -0.28, -0.44, -0.59, -0.59, -0.64, -0.31, -0.28, -0.06, -0.06, 0.0, 0.06, 0.09, 0.11]
v1_peak = [0.0, 0.03, 0.13, 0.36, 0.42, 0.42, 0.52, 0.53, 0.56, 0.44, 0.28, 0.06, 1.06, 1.53, 1.3, 0.86, 0.33,
           0.17, -0.09, -0.17, -0.19, -0.2, 0.08, 0.17, 0.0, 0.33, 0.39, 0.42, 0.47, 0.53]
v1_trough = [-0.67, -0.64, -0.58, -0.17, -0.24, -0.2, -0.11, -0.09, -0.11, 0.0, -0.39, -0.39, 0.53, 0.94, 0.78,
             0.24, -0.17, -0.28, -0.67, -0.8, -0.83, -0.76, -0.56, -0.33, -0.39, -0.28, -0.24, -0.2, -0.17, -0.14]
v1_post = [-0.56, -0.5, -0.42, -0.14, -0.09, -0.03, 0.06, 0.11, 0.2, 0.06, -0.31, -0.33, 0.67, 0.94, 0.78,
           0.24, -0.17, -0.28, -0.59, -0.64, -0.64, -0.61, -0.39, -0.28, -0.17, -0.06, -0.02, 0.02, 0.08, 0.06]
v1_extra = [(100.0, -0.44), (108.2, 0.97), (108.75, 1.0), (109.5, 0.6), (110.9, -0.2), (119.85, 0.11),
            (119.90, -0.09), (119.95, 0.06), (120.0, 0.53)]
v1_pvc1 = [(107.02, -0.31), (107.10, -0.33), (107.13, 0.06), (107.15, -0.05), (107.18, 0.06), (107.21, -0.39),
           (107.28, -0.33), (107.39, 0.0), (107.54, 0.17), (107.72, 0.33)]

rhc_pts = [
    (100.00, 2.3), (100.02, 8.1), (100.06, 13.0), (100.09, 9.5), (100.13, 6.6), (100.20, 8.1), (100.29, 9.5),
    (100.37, 11.0), (100.46, 12.4), (100.53, 11.6), (100.59, 11.8), (100.66, 9.5), (100.73, 8.1), (100.79, 11.0),
    (100.86, 9.5), (100.91, 21.1), (100.95, 12.4), (100.98, 0.3), (101.03, 9.5), (101.06, 16.8), (101.10, 13.9),
    (101.16, 9.5), (101.21, 12.4), (101.26, 9.5), (101.34, 5.2), (101.41, 9.5), (101.47, 12.4), (101.54, 14.5),
    (101.61, 12.4), (101.69, 12.4), (101.76, 9.5), (101.83, 11.6), (101.89, 9.5), (101.97, 5.2), (102.02, 10.1),
    (102.09, 9.5), (102.16, 11.0), (102.22, 11.8), (102.29, 11.0), (102.35, 11.0), (102.44, 11.6), (102.53, 11.0),
    (102.59, 9.5), (102.65, 7.2), (102.70, 13.9), (102.74, 11.6), (102.79, 9.5), (102.97, 9.5), (103.41, 9.2),
    (103.85, 9.0), (104.29, 8.4), (104.73, 8.1), (105.17, 7.8), (105.34, 7.5), (105.39, 8.1), (105.46, 6.6),
    (105.54, 6.6), (105.59, 16.8), (105.65, 19.7), (105.70, 18.2), (105.74, 22.5), (105.77, 18.2), (105.81, 23.4),
    (105.84, 18.8), (105.87, 25.4), (105.89, 12.4), (105.92, 22.5), (105.98, 20.2), (106.05, 19.7), (106.13, 19.7),
    (106.22, 18.8), (106.31, 17.6), (106.40, 17.6), (106.47, 21.7), (106.50, 13.9), (106.54, 19.7), (106.62, 18.2),
    (106.71, 18.8), (106.82, 21.1), (106.88, 18.8), (106.95, 19.7), (107.02, 18.8), (107.08, 19.7), (107.15, 22.5),
    (107.21, 21.1), (107.26, 16.8), (107.32, 11.0), (107.39, 7.2), (107.46, 6.6), (107.52, 8.1), (107.59, 13.9),
    (107.65, 15.3), (107.72, 13.0), (107.76, 9.0), (107.79, 6.6), (107.82, 16.8), (107.85, 21.1), (107.90, 16.8),
    (107.98, 13.9), (108.07, 13.0), (108.16, 13.0), (108.18, 15.3), (108.25, 13.0), (108.42, 13.0), (108.60, 13.0),
    (108.69, 14.7), (108.71, 15.3), (108.73, 12.4), (108.86, 13.9), (109.04, 13.9), (109.21, 15.3), (109.39, 14.7),
    (109.57, 14.7), (109.74, 13.9), (109.92, 14.7), (110.09, 14.7), (110.27, 15.3), (110.31, 16.8), (110.36, 11.0),
    (110.40, 15.3), (110.45, 12.4), (110.49, 15.9), (110.53, 10.1), (110.58, 13.9), (110.62, 9.5), (110.67, 15.9),
    (110.71, 9.5), (110.75, 6.6), (110.80, 13.9), (110.86, 11.0), (110.93, 13.0), (111.06, 12.4), (111.24, 12.4),
    (111.37, 12.4), (111.41, 16.8), (111.45, 9.5), (111.49, 29.8), (111.52, 32.7), (111.57, 25.4), (111.61, 3.8),
    (111.64, -4.9), (111.68, 0.9), (111.71, 18.2), (111.75, 6.6), (111.79, 16.8), (111.83, -2.0), (111.88, 9.5),
    (111.91, 29.8), (111.94, 12.4), (111.98, 3.8), (112.01, 19.7), (112.04, 26.9), (112.08, 12.4), (112.12, 6.6),
    (112.16, 29.8), (112.19, 15.3), (112.22, 21.1), (112.25, 9.5), (112.29, 23.7), (112.33, 16.8), (112.37, 12.4),
    (112.43, 18.2), (112.47, 21.1), (112.51, 15.3), (112.58, 16.8), (112.65, 17.6), (112.71, 16.8), (112.78, 15.3),
    (112.84, 15.9), (112.91, 16.8), (113.00, 17.6), (113.06, 18.2), (113.09, 23.7), (113.13, 12.4), (113.17, 19.7),
    (113.26, 17.6), (113.35, 16.8), (113.44, 17.6), (113.52, 15.9), (113.69, 15.3), (113.87, 15.9), (114.04, 16.8),
    (114.09, 9.5), (114.13, 30.3), (114.17, -0.6), (114.20, 12.4), (114.24, 36.1), (114.27, 21.1), (114.31, 16.8),
    (114.35, 21.7), (114.39, 18.8), (114.46, 16.8), (114.53, 13.9), (114.57, 18.2), (114.60, 6.6), (114.62, 19.7),
    (114.64, -6.4), (114.67, 19.7), (114.70, 12.4), (114.72, 21.1), (114.75, 13.9), (114.79, 11.0), (114.86, 12.4),
    (114.92, 11.0), (115.00, 13.0), (115.05, 9.5), (115.12, 16.8), (115.16, 19.7), (115.23, 9.0), (115.29, 12.4),
    (115.36, 13.9), (115.45, 11.8), (115.54, 12.4), (115.62, 11.0), (115.71, 13.9), (115.80, 12.4), (115.89, 11.8),
    (116.00, 13.0), (116.11, 15.3), (116.19, 13.0), (116.32, 13.3), (116.50, 13.0), (116.68, 12.4), (116.81, 13.9),
    (116.85, 15.9), (116.94, 13.0), (117.07, 12.4), (117.20, 11.8), (117.33, 13.0), (117.42, 11.0), (117.55, 11.6),
    (117.68, 11.8), (117.86, 12.4), (118.04, 11.8), (118.21, 11.0), (118.39, 9.5), (118.61, 8.7), (118.82, 7.8),
    (119.00, 7.8), (119.13, 9.0), (119.22, 9.5), (119.26, 11.0), (119.31, 22.5), (119.35, 29.8), (119.42, 34.1),
    (119.45, 44.2), (119.47, 54.3), (119.49, 49.9), (119.53, 52.8), (119.56, 48.5), (119.59, 51.4), (119.66, 31.2),
    (119.72, 22.5), (119.79, 15.3), (119.83, 13.9), (119.87, 9.5), (119.92, 14.7), (119.96, 13.9), (120.00, 13.0)]

labels = ["patch_ECG\n[mV]", "patch_ACC_lat\n[mg]", "patch_ACC_hf\n[mg]", "patch_ACC_dv\n[mg]",
          "patch_Hum\n[%]", "patch_Pre\n[mbar]", "patch_Temp\n[Celsius]", "ECG_lead_I\n[mV]",
          "ECG_lead_II\n[mV]", "ECG_lead_III\n[mV]", "aVR\n[mV]", "aVL\n[mV]", "aVF\n[mV]",
          "ECG_lead_V1\n[mV]", "RHC_pressure\n[mmHg]"]
yticks = [[0, 1, 2], [0, 10], [-10, 0], [-20, 0], [44.85, 44.90, 44.95], [973.525, 973.530],
          [33.47, 33.48], [0.0, 0.5], [-1, 0, 1], [-2, 0], [-0.25, 0.0, 0.25], [0.0, 0.5],
          [-0.5, 0.0, 0.5], [0, 1], [0, 25, 50]]
xticks = [100.0, 102.5, 105.0, 107.5, 110.0, 112.5, 115.0, 117.5, 120.0]


# ---------------- helpers ----------------
def pts(p):
    p = sorted(p)
    return np.array([a for a, b in p]), np.array([b for a, b in p])


def beats_line(shape, base=0.0, peak=0.0, trough=0.0, post=None, extra=(), override=()):
    n = len(beat_t)
    base = np.broadcast_to(np.asarray(base, float), (n,))
    peak = np.broadcast_to(np.asarray(peak, float), (n,))
    trough = np.broadcast_to(np.asarray(trough, float), (n,))
    post = base if post is None else np.asarray(post, float)
    out = []
    for i, t0 in enumerate(beat_t):
        t_prev = beat_t[i - 1] if i > 0 else -1e9
        t_next = beat_t[i + 1] if i < n - 1 else 1e9
        for off, kind, val in shape:
            t = t0 + off
            if off > 0 and t > t_next - 0.09:
                continue
            if off < 0 and t < t_prev + 0.06:
                continue
            lvl = {"b": base[i], "p": post[i], "r": peak[i], "s": trough[i]}[kind]
            out.append((t, lvl + val))
    for seg in override:
        lo, hi = min(s[0] for s in seg), max(s[0] for s in seg)
        out = [q for q in out if not (lo - 0.005 <= q[0] <= hi + 0.005)]
        out.extend(seg)
    out.extend(extra)
    return pts(out)


patch_shape = [(-0.05, "b", 0.0), (-0.012, "r", 0.0), (0.025, "s", 0.0), (0.06, "b", 0.0), (0.15, "b", -0.04)]
lead1_shape = [(-0.07, "b", 0.0), (-0.03, "b", -0.12), (0.0, "b", 0.3), (0.03, "b", -0.04), (0.1, "b", -0.02),
               (0.27, "b", 0.1), (0.42, "b", 0.0)]
lead2_shape = [(-0.08, "b", 0.0), (-0.037, "b", 0.35), (-0.012, "b", -0.65), (0.02, "b", 0.0), (0.12, "b", 0.05),
               (0.3, "b", -0.12), (0.42, "b", 0.0)]
lead3_shape = [(-0.08, "b", 0.0), (-0.037, "b", 0.3), (-0.012, "b", -1.25), (0.02, "b", 0.0), (0.12, "b", 0.05),
               (0.3, "b", -0.15), (0.42, "b", 0.0)]
avr_shape = [(-0.08, "b", 0.0), (-0.055, "b", 0.02), (-0.035, "s", 0.0), (-0.012, "r", 0.0), (-0.002, "b", 0.12),
             (0.008, "r", -0.02), (0.03, "b", 0.06), (0.08, "b", 0.0), (0.18, "b", -0.03), (0.28, "b", 0.03),
             (0.4, "b", 0.0)]
avl_shape = [(-0.07, "b", 0.0), (-0.03, "b", -0.15), (0.0, "r", 0.0), (0.03, "b", -0.04), (0.1, "b", -0.02),
             (0.18, "b", 0.02), (0.27, "b", 0.13), (0.36, "b", 0.03), (0.45, "b", 0.0)]
avf_shape = [(-0.08, "b", 0.0), (-0.055, "b", 0.0), (-0.037, "r", 0.0), (-0.012, "s", 0.0), (0.02, "b", -0.02),
             (0.1, "b", 0.01), (0.2, "b", -0.02), (0.3, "b", -0.1), (0.42, "b", 0.0)]
v1_shape = [(-0.07, "b", 0.0), (-0.037, "r", 0.0), (0.01, "s", 0.0), (0.05, "p", 0.0)]

series = [
    beats_line(patch_shape, base=-0.02, peak=patch_r, trough=-0.24, extra=patch_extra,
               override=[patch_pvc1, patch_pvc2]),
    pts(acc_lat_pts),
    pts(acc_hf_pts),
    pts(acc_dv_pts),
    (np.array(hum_t), np.array(hum_v)),
    (np.array(pre_t), np.array(pre_v)),
    (np.array(temp_t), np.array(temp_v)),
    beats_line(lead1_shape, base=lead1_base, extra=[(100.0, 0.0), (107.16, 1.05), (108.45, 0.82),
                                                     (116.0, 0.45), (116.18, -0.32),
                                                     (119.98, 0.0), (120.0, 0.25)]),
    beats_line(lead2_shape, base=lead2_base, extra=[(100.0, 0.65), (120.0, -0.6)], override=[lead2_pvc2]),
    beats_line(lead3_shape, base=lead3_base, extra=[(100.0, 0.95), (120.0, -0.5)], override=[lead3_pvc2]),
    beats_line(avr_shape, base=0.0, peak=avr_peak, trough=avr_trough,
               extra=[(100.0, -0.02), (119.96, 0.0), (119.985, -0.26), (120.0, 0.19)],
               override=[avr_pvc1, avr_pvc2]),
    beats_line(avl_shape, base=-0.04, peak=avl_peak,
               extra=[(100.0, -0.02), (119.97, -0.06), (120.0, 0.51)], override=[avl_pvc1, avl_pvc2]),
    beats_line(avf_shape, base=0.03, peak=avf_peak, trough=avf_trough,
               extra=[(100.0, 0.03), (119.975, 0.03), (119.988, 0.44), (120.0, -0.69)],
               override=[avf_pvc1, avf_pvc2]),
    beats_line(v1_shape, base=v1_pre, peak=v1_peak, trough=v1_trough, post=v1_post, extra=v1_extra,
               override=[v1_pvc1]),
    pts(rhc_pts),
]

# ---------------- figure ----------------
fig, axes = plt.subplots(15, 1, figsize=(24, 18))
for ax, (t, v), lab, yt in zip(axes, series, labels, yticks):
    ax.plot(t, v, color="#1f77b4", lw=1.5)
    ax.set_xlim(100, 120)
    ax.set_xticks(xticks)
    ax.set_yticks(yt)
    ax.set_ylabel(lab)
axes[-1].set_xlabel("time (s)")
sns.despine(fig=fig)

fig.savefig("out.png", dpi=100)
